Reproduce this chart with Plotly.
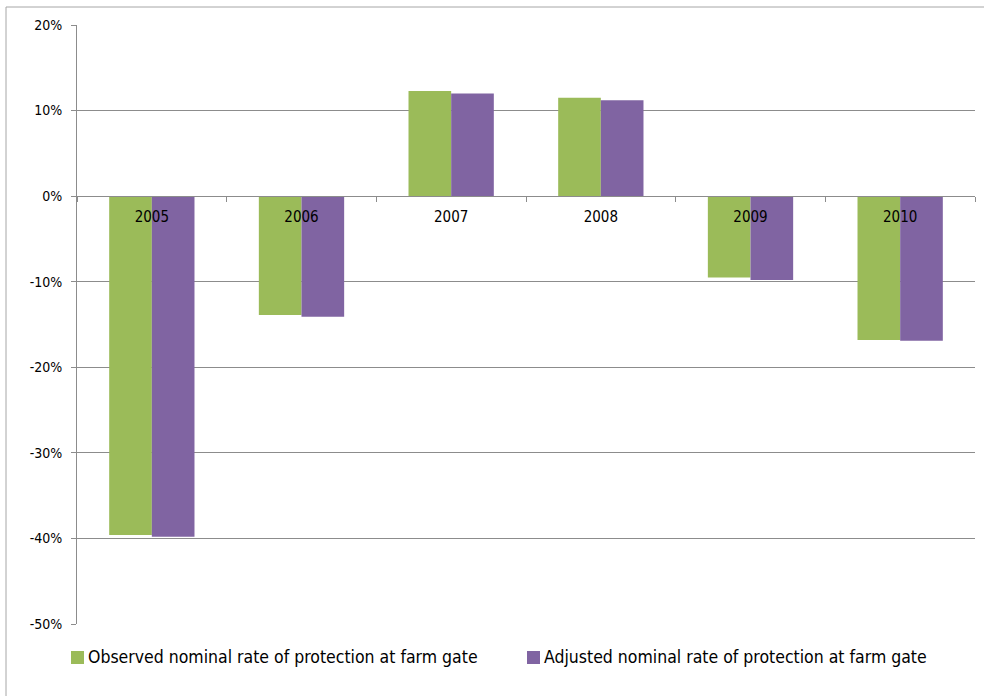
import plotly.graph_objects as go

# Data
years = ["2005", "2006", "2007", "2008", "2009", "2010"]
observed = [-39.6, -13.9, 12.3, 11.5, -9.5, -16.8]
adjusted = [-39.8, -14.1, 12.0, 11.2, -9.8, -16.9]
series_names = [
    "Observed nominal rate of protection at farm gate",
    "Adjusted nominal rate of protection at farm gate",
]
y_ticks = [20, 10, 0, -10, -20, -30, -40, -50]
y_tick_labels = [f"{v}%" for v in y_ticks]
y_min, y_max = -50, 20

GREEN = "#9BBB59"
PURPLE = "#8064A2"
GRID = "#8C8C8C"
FONT = "DejaVu Sans Condensed, Lato, sans-serif"

W, H = 984, 696
M_L, M_R, M_T, M_B = 77, 9, 25, 72
PW, PH = W - M_L - M_R, H - M_T - M_B


def px_x(x):
    return (x - M_L) / PW


def px_y(y):
    return (H - M_B - y) / PH


fig = go.Figure()
fig.add_trace(go.Bar(x=years, y=observed, name=series_names[0],
                     marker=dict(color=GREEN, line=dict(width=0))))
fig.add_trace(go.Bar(x=years, y=adjusted, name=series_names[1],
                     marker=dict(color=PURPLE, line=dict(width=0))))

fig.update_layout(
    width=W, height=H,
    margin=dict(l=M_L, r=M_R, t=M_T, b=M_B),
    paper_bgcolor="white", plot_bgcolor="white",
    barmode="group", bargap=0.43, bargroupgap=0,
    showlegend=False,
    font=dict(family=FONT, color="#000000", size=15),
)

# Category axis sits on the zero line
fig.update_xaxes(
    type="category",
    anchor="free",
    position=(0 - y_min) / (y_max - y_min),
    showline=True, linecolor=GRID, linewidth=1,
    ticks="outside", tickson="boundaries", ticklen=5, tickcolor=GRID,
    showgrid=False,
    tickfont=dict(size=15, family=FONT),
    ticklabelstandoff=7,
)
fig.update_yaxes(
    range=[y_min, y_max],
    tickmode="array", tickvals=y_ticks, ticktext=y_tick_labels,
    showgrid=True, gridcolor=GRID, gridwidth=1,
    zeroline=False,
    showline=True, linecolor=GRID, linewidth=1,
    ticks="outside", ticklen=5, tickcolor=GRID,
    tickfont=dict(size=14, family=FONT),
    ticklabelstandoff=6,
)

# Outer chart border
fig.add_shape(type="rect", xref="paper", yref="paper",
              x0=px_x(6), x1=px_x(W + 20), y0=px_y(7), y1=px_y(H + 20),
              line=dict(color="#A6A6A6", width=1), fillcolor="rgba(0,0,0,0)",
              layer="below")

# Legend keys and labels
legend_items = [(71, GREEN, series_names[0]), (527, PURPLE, series_names[1])]
for x0, color, label in legend_items:
    fig.add_shape(type="rect", xref="paper", yref="paper",
                  x0=px_x(x0), x1=px_x(x0 + 13), y0=px_y(651), y1=px_y(664),
                  line=dict(width=0), fillcolor=color)
    fig.add_annotation(xref="paper", yref="paper",
                       x=px_x(x0 + 15), y=px_y(657),
                       xanchor="left", yanchor="middle", showarrow=False,
                       text=label, font=dict(size=17.5, family=FONT))

fig.write_html("out.html")
